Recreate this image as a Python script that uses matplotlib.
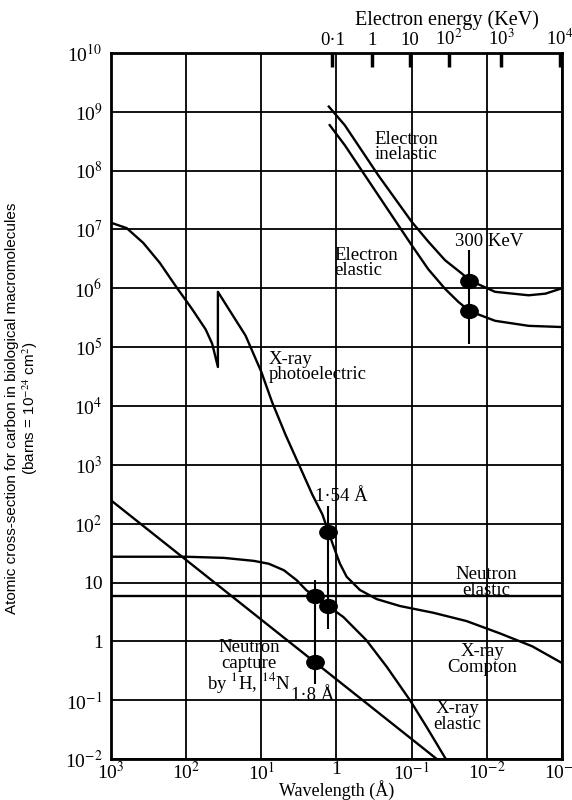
import numpy as np
import matplotlib
matplotlib.use("Agg")
import matplotlib.pyplot as plt
from matplotlib.ticker import FixedLocator, NullLocator
from matplotlib.path import Path
from matplotlib.transforms import Affine2D

plt.rcParams["font.family"] = ["Liberation Serif", "DejaVu Serif"]
plt.rcParams["mathtext.fontset"] = "stix"

# --- curves (wavelength in A, cross-section in barns) ---
photo_wl = [1000, 617, 372, 224, 135, 83, 55, 45, 37.8, 37.8, 27, 16.2, 10, 7.2,
            4.74, 3.15, 2.09, 1.54, 1.31, 1.10, 0.90, 0.733, 0.488, 0.292,
            0.143, 0.0513, 0.0186, 0.00668, 0.0025, 0.001]
photo_cs = [1.3e7, 1.05e7, 5.9e6, 2.7e6, 1.05e6, 4.4e5, 2.0e5, 1.14e5, 4.6e4, 8.7e5,
            4.4e5, 1.57e5, 3.8e4, 1.17e4, 3.2e3, 1000, 310, 144, 79, 42, 21,
            12.6, 7.5, 5.25, 4.0, 3.07, 2.22, 1.37, 0.83, 0.43]

xel_wl = [1000, 100, 31.6, 12.6, 7.94, 5.0, 3.39, 2.51, 1.78, 1.29, 0.81, 0.40,
          0.214, 0.105, 0.063, 0.035]
xel_cs = [27.5, 27.5, 26.3, 23.4, 20.9, 16.2, 11.0, 7.4, 5.4, 4.0, 2.6, 1.05,
          0.37, 0.1, 0.035, 0.01]

ncap_wl = [1000, 0.046]
ncap_cs = [250, 0.01]

nel_wl = [1000, 0.001]
nel_cs = [6.0, 6.0]

einel_wl = [1.265, 0.776, 0.278, 0.1, 0.06, 0.036, 0.0215, 0.0167, 0.00776,
            0.00278, 0.00166, 0.00105]
einel_cs = [1.22e9, 5.9e8, 8.3e7, 1.35e7, 6.2e6, 3.0e6, 1.78e6, 1.35e6, 8.7e5,
            7.6e5, 8.1e5, 9.8e5]

eel_wl = [1.23, 0.776, 0.278, 0.1, 0.06, 0.036, 0.024, 0.017, 0.00776, 0.00278, 0.00105]
eel_cs = [5.9e8, 2.7e8, 3.8e7, 5.4e6, 2.1e6, 9.8e5, 5.9e5, 4.1e5, 2.8e5, 2.3e5, 2.2e5]

# marked points (1.54 A X-rays, 1.8 A neutrons, 300 keV electrons)
dot_wl = [1.31, 1.31, 1.93, 1.93, 0.017, 0.017]
dot_cs = [72, 4.0, 5.9, 0.45, 1.35e6, 4.1e5]

marker_wl = [1.31, 1.93, 0.017]
marker_lo = [1.6, 0.19, 1.15e5]
marker_hi = [200, 11, 4.5e6]

# axis ticks
wl_ticks = [1e3, 1e2, 1e1, 1, 1e-1, 1e-2, 1e-3]
wl_labels = ["10$^3$", "10$^2$", "10$^1$", "1", "10$^{-1}$", "10$^{-2}$", "10$^{-3}$"]
cs_ticks = [10.0 ** k for k in range(-2, 11)]
cs_labels = ["10$^{-2}$", "10$^{-1}$", "1", "10"] + ["10$^{%d}$" % k for k in range(2, 11)]
energy_tick_wl = [1.13, 0.34, 0.106, 0.032, 0.0065, 0.00107]
energy_labels = ["0\u00b71", "1", "10", "10$^2$", "10$^3$", "10$^4$"]

fig = plt.figure(figsize=(5.72, 8.0), dpi=100)
ax = fig.add_axes([0.194, 0.051, 0.7885, 0.883])
ax.set_xscale("log")
ax.set_yscale("log")
ax.set_xlim(1e3, 1e-3)
ax.set_ylim(1e-2, 1e10)

lw = 1.7
for wl, cs in [(photo_wl, photo_cs), (xel_wl, xel_cs), (ncap_wl, ncap_cs),
               (nel_wl, nel_cs), (einel_wl, einel_cs), (eel_wl, eel_cs)]:
    ax.plot(wl, cs, color="black", lw=lw, solid_joinstyle="round")

ax.vlines(marker_wl, marker_lo, marker_hi, color="black", lw=1.5)
oval = Path.unit_circle().transformed(Affine2D().scale(1.0, 0.8))
ax.plot(dot_wl, dot_cs, linestyle="none", marker=oval, color="black", ms=12.5)

ax.xaxis.set_major_locator(FixedLocator(wl_ticks))
ax.xaxis.set_minor_locator(NullLocator())
ax.set_xticklabels(wl_labels)
ax.yaxis.set_major_locator(FixedLocator(cs_ticks))
ax.yaxis.set_minor_locator(NullLocator())
ax.set_yticklabels(cs_labels)
ax.tick_params(length=0, labelsize=14, pad=6)
ax.tick_params(axis="x", pad=1.5)
ax.grid(True, which="major", color="black", lw=1.3)
for s in ax.spines.values():
    s.set_linewidth(2)
ax.set_xlabel("Wavelength (\u00c5)", fontsize=13, labelpad=-2.5)

ax2 = ax.twiny()
ax2.set_xscale("log")
ax2.set_xlim(1e3, 1e-3)
ax2.xaxis.set_major_locator(FixedLocator(energy_tick_wl))
ax2.xaxis.set_minor_locator(NullLocator())
ax2.set_xticklabels(energy_labels)
ax2.tick_params(axis="x", direction="in", length=10, width=2.5, labelsize=13.5, pad=3)
fig.text(447 / 572, 1 - 20 / 800, "Electron energy (KeV)", fontsize=14.5,
         ha="center", va="center")

fs = 13.5
ls = 0.9
ax.text(0.31, 10 ** 8.40, "Electron\ninelastic", fontsize=fs, ha="left", va="center",
        linespacing=ls)
ax.text(1.08, 10 ** 6.43, "Electron\nelastic", fontsize=fs, ha="left", va="center",
        linespacing=ls)
ax.text(0.0092, 10 ** 6.80, "300 KeV", fontsize=fs, ha="center", va="center")
ax.text(7.9, 10 ** 4.66, "X-ray\nphotoelectric", fontsize=fs, ha="left", va="center",
        linespacing=ls)
ax.text(0.85, 10 ** 2.46, "1\u00b754 \u00c5", fontsize=fs, ha="center", va="center")
ax.text(0.0102, 10 ** 1.0, "Neutron\nelastic", fontsize=fs, ha="center", va="center",
        linespacing=ls)
ax.text(0.0115, 10 ** -0.31, "X-ray\nCompton", fontsize=fs, ha="center", va="center",
        linespacing=ls)
ax.text(0.0245, 10 ** -1.27, "X-ray\nelastic", fontsize=fs, ha="center", va="center",
        linespacing=ls)
ax.text(14.5, 10 ** -0.44, "Neutron\ncapture\nby $^{1}$H, $^{14}$N", fontsize=fs,
        ha="center", va="center", linespacing=ls)
ax.text(2.1, 10 ** -0.92, "1\u00b78 \u00c5", fontsize=fs, ha="center", va="center")

fig.text(0.04, 0.49, "Atomic cross-section for carbon in biological macromolecules\n"
         "(barns = 10$^{-24}$ cm$^2$)", rotation=90, ha="center", va="center",
         fontsize=11, linespacing=1.1,
         family=["Liberation Sans Narrow", "Liberation Sans", "DejaVu Sans"])

fig.savefig("out.png", dpi=100)
